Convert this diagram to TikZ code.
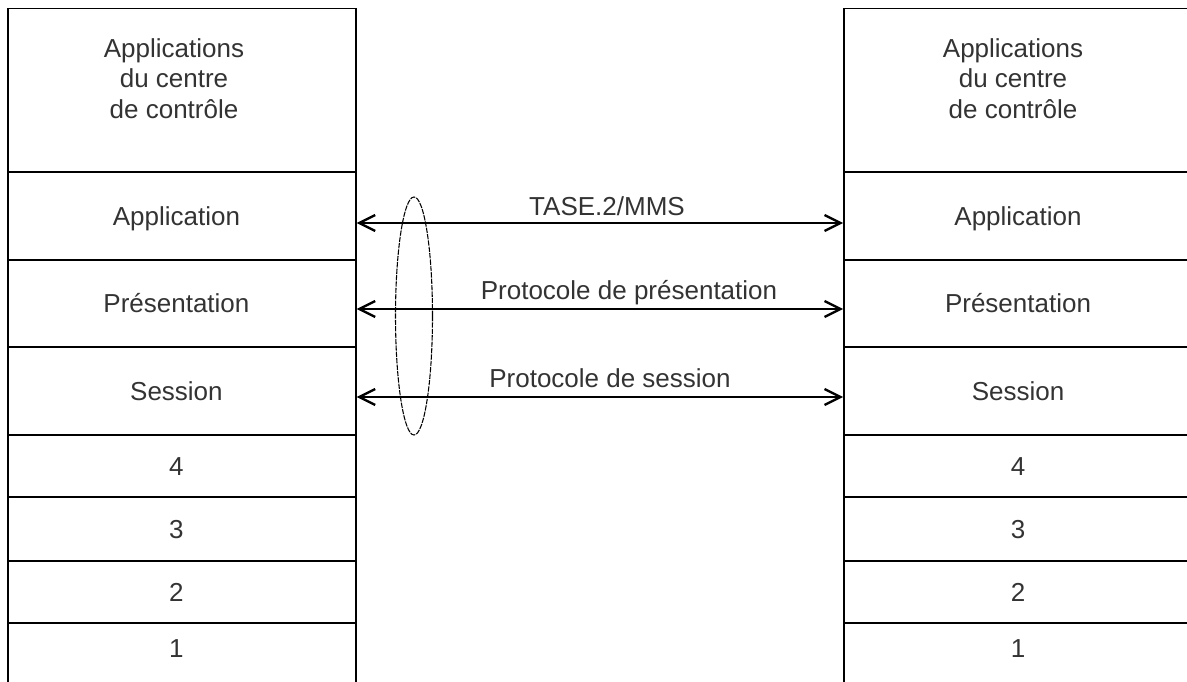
\documentclass[tikz,border=0pt]{standalone}
\usepackage{fontspec}
\setmainfont{Liberation Sans}
\usetikzlibrary{arrows.meta,calc,positioning}
\definecolor{layertext}{RGB}{51,51,51}
\newcommand{\layerfont}{\fontsize{19.5}{22.9}\selectfont}
\tikzset{every picture/.style={line width=0.75pt}}
\tikzset{
  layer/.style={draw, line width=1.2pt, minimum width=261pt, inner sep=0pt, text height=14pt, text depth=0pt, text=layertext, font=\layerfont},
  leftlayer/.style={layer, execute at begin node={\kern-8pt}},
  toptext/.style={anchor=north, align=center, inner sep=0pt, text=layertext, font=\layerfont},
  protlabel/.style={anchor=base, inner sep=0pt, text=layertext, font=\layerfont},
  protarrow/.style={{Straight Barb[length=12pt,width=12pt,line width=1.8pt]}-{Straight Barb[length=12pt,width=12pt,line width=1.8pt]}, line width=0.8pt},
  assoc/.style={dash pattern=on 4pt off 0.8pt, line width=0.8pt}
}

\begin{document}
\begin{tikzpicture}[x=0.75pt,y=0.75pt,yscale=-1,xscale=1]
				\useasboundingbox (0,0) rectangle (1187,681);
				%Shape: left stack
				\node [leftlayer, minimum height=122.6pt] (lctrl) at (181.75,90.25) {};
				\node [leftlayer, minimum height=66pt] (lappl) at (181.75,216) {Application};
				\node [leftlayer, minimum height=65.25pt] (lpres) at (181.75,303.5) {Présentation};
				\node [leftlayer, minimum height=66pt] (lsess) at (181.75,391) {Session};
				\node [leftlayer, minimum height=46.5pt] (lfour) at (181.75,466) {4};
				\node [leftlayer, minimum height=48pt] (lthree) at (181.75,529) {3};
				\node [leftlayer, minimum height=46.5pt] (ltwo) at (181.75,592) {2};
				\node [leftlayer, minimum height=47.25pt, text depth=9pt] (lone) at (181.75,654.5) {1};
				% Text Node
				\node [toptext] (lctrltxt) at (174,38) {Applications\\du centre\\de contrôle};
				%Shape: right stack
				\node [layer, minimum height=122.6pt] (rctrl) at (1018,90.25) {};
				\node [layer, minimum height=66pt] (rappl) at (1018,216) {Application};
				\node [layer, minimum height=65.25pt] (rpres) at (1018,303.5) {Présentation};
				\node [layer, minimum height=66pt] (rsess) at (1018,391) {Session};
				\node [layer, minimum height=46.5pt] (rfour) at (1018,466) {4};
				\node [layer, minimum height=48pt] (rthree) at (1018,529) {3};
				\node [layer, minimum height=46.5pt] (rtwo) at (1018,592) {2};
				\node [layer, minimum height=47.25pt, text depth=9pt] (rone) at (1018,654.5) {1};
				% Text Node
				\node [toptext] (rctrltxt) at (1013,38) {Applications\\du centre\\de contrôle};
				%Straight Lines: peer protocols
				\draw [protarrow] ($(lappl.east)+(0,7)$) -- ($(rappl.west)+(0,7)$);
				\draw [protarrow] ($(lpres.east)+(0,5.5)$) -- ($(rpres.west)+(0,5.5)$);
				\draw [protarrow] ($(lsess.east)+(0,6)$) -- ($(rsess.west)+(0,6)$);
				%Shape: Ellipse
				\coordinate (assoc) at (414,316);
				\draw [assoc] (assoc) ellipse [x radius=18.5, y radius=119];
				% Text Node
				\node [protlabel] (tase) at (607,215) {TASE.2/MMS};
				% Text Node
				\node [protlabel] (preslabel) at (629,299) {Protocole de présentation};
				% Text Node
				\node [protlabel] (sesslabel) at (610,387) {Protocole de session};
\end{tikzpicture}
\end{document}
